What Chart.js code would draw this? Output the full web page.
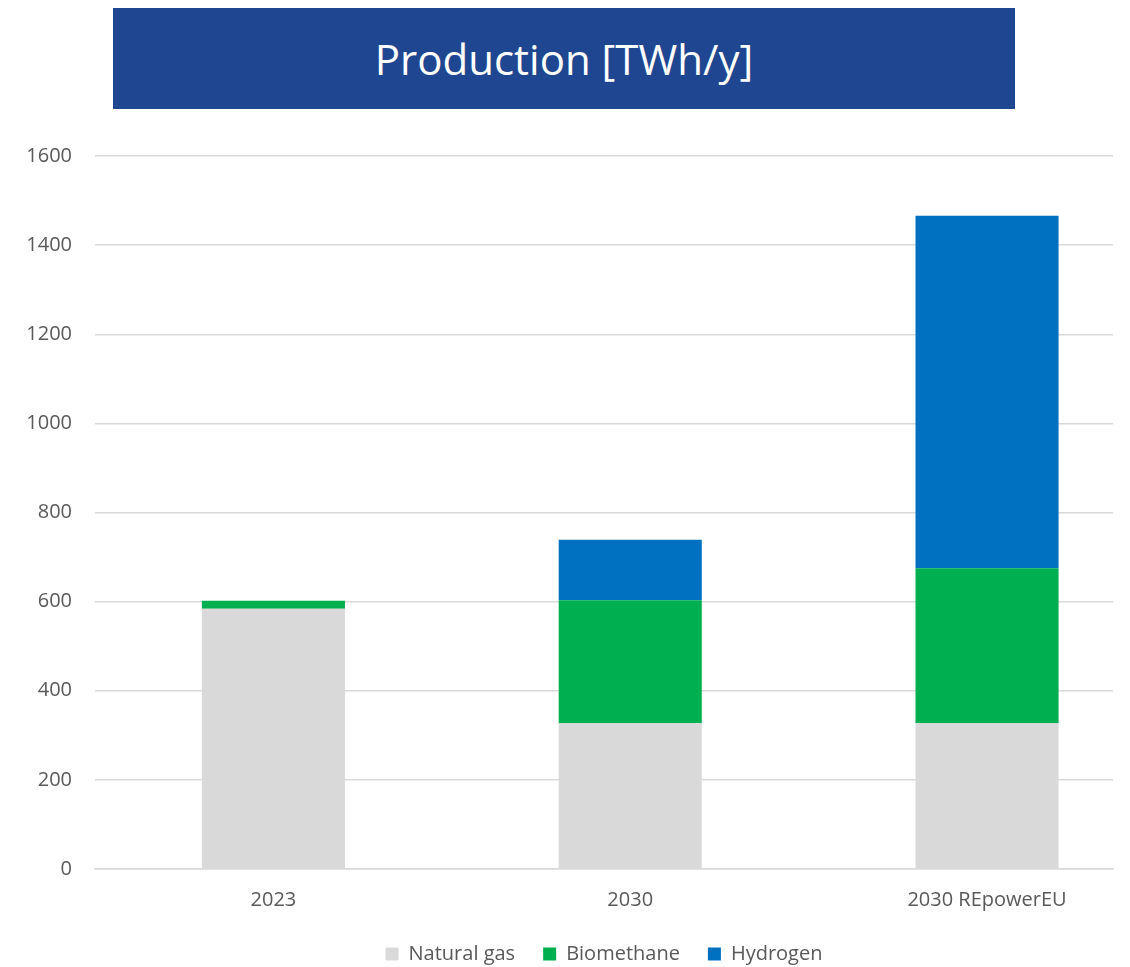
<!DOCTYPE html>
<html>
<head>
<meta charset="utf-8">
<script src="https://cdn.jsdelivr.net/npm/chart.js@4"></script>
<style>
  html, body { margin: 0; padding: 0; background: #fff; }
  #wrap { position: relative; width: 1130px; height: 967px; overflow: hidden; }
  #title {
    position: absolute; left: 113px; top: 8px; width: 902px; height: 101px;
    background: #1F4690; color: #fff;
    font-family: "Open Sans", sans-serif; font-size: 42px;
    display: flex; align-items: center; justify-content: center;
  }
  canvas { position: absolute; left: 0; top: 0; }
</style>
</head>
<body>
<div id="wrap">
  <canvas id="chart" width="1130" height="967"></canvas>
  <div id="title">Production [TWh/y]</div>
</div>
<script>
const categories = ['2023', '2030', '2030 REpowerEU'];
const naturalGas = [584, 327, 327];
const biomethane = [18, 276, 348];
const hydrogen = [0, 136, 791];
const yTicks = [0, 200, 400, 600, 800, 1000, 1200, 1400, 1600];

const tickFont = { family: 'Open Sans', size: 20 };
const grey = '#595959';
const asPoints = arr => arr.map((v, i) => ({ x: i, y: v }));

new Chart('chart', {
  type: 'bar',
  data: {
    datasets: [
      { label: 'Natural gas', data: asPoints(naturalGas), backgroundColor: '#D9D9D9' },
      { label: 'Biomethane', data: asPoints(biomethane), backgroundColor: '#00B050' },
      { label: 'Hydrogen', data: asPoints(hydrogen), backgroundColor: '#0070C0' },
    ]
  },
  options: {
    responsive: false,
    animation: false,
    layout: { padding: { top: 156, right: 17, left: 0, bottom: -7 } },
    datasets: { bar: { categoryPercentage: 1, barPercentage: 0.401 } },
    scales: {
      x: {
        type: 'linear',
        stacked: true,
        offset: false,
        min: -0.5, max: 2.353,
        afterBuildTicks: s => { s.ticks = categories.map((c, i) => ({ value: i })); },
        grid: { display: false, drawTicks: false },
        border: { color: '#D9D9D9', width: 1.5 },
        ticks: { font: tickFont, color: grey, padding: 19, callback: v => categories[v] },
        afterFit: s => { s.height = 47; },
      },
      y: {
        stacked: true,
        min: 0, max: 1600,
        afterBuildTicks: s => { s.ticks = yTicks.map(v => ({ value: v })); },
        grid: { color: '#D9D9D9', lineWidth: 1.5, drawTicks: false },
        border: { display: false },
        ticks: { font: tickFont, color: grey, padding: 23, callback: v => String(v) },
        afterFit: s => { s.width = 95; },
      }
    },
    plugins: {
      title: { display: false },
      tooltip: { enabled: false },
      legend: {
        position: 'bottom',
        fullSize: false,
        labels: { font: tickFont, color: grey, boxWidth: 13, boxHeight: 13, padding: 28 }
      }
    }
  }
});
</script>
</body>
</html>
